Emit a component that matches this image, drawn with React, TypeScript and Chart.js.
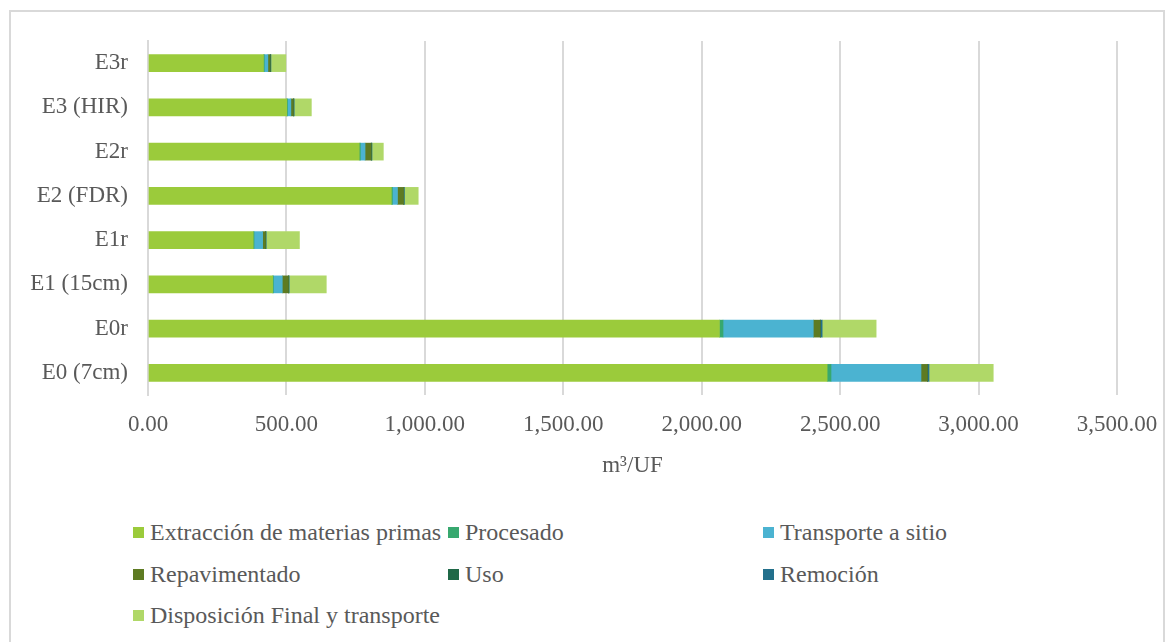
import React, { useEffect, useRef } from "react";
import { Chart, registerables } from "chart.js";

Chart.register(...registerables);

const categories = ["E3r", "E3 (HIR)", "E2r", "E2 (FDR)", "E1r", "E1 (15cm)", "E0r", "E0 (7cm)"];
const extraccion = [417, 501, 763, 879, 380, 450, 2064, 2453];
const procesado = [3, 3, 4, 4, 3, 3, 13, 14];
const transporte = [13, 12, 17, 18, 31, 32, 326, 325];
const repavimentado = [8, 9, 22, 22, 10, 22, 25, 23];
const uso = [1, 1, 1, 1, 1, 1, 1, 1];
const remocion = [2, 2, 2, 2, 2, 2, 6, 5];
const disposicion = [54, 62, 41, 50, 120, 134, 195, 232];

const seriesNames = [
  "Extracción de materias primas",
  "Procesado",
  "Transporte a sitio",
  "Repavimentado",
  "Uso",
  "Remoción",
  "Disposición Final y transporte",
];
const seriesColors = ["#9BCB3B", "#37A86F", "#4BB3D1", "#5E7B22", "#1F6847", "#23708C", "#B0D868"];
const seriesValues = [extraccion, procesado, transporte, repavimentado, uso, remocion, disposicion];

const xMax = 3500;
const xStep = 500;

const FONT = "'Liberation Serif', 'Times New Roman', serif";
const TEXT = "#595959";

export default function App() {
  const ref = useRef<HTMLCanvasElement | null>(null);

  useEffect(() => {
    if (!ref.current) return;
    const chart = new Chart(ref.current, {
      type: "bar",
      data: {
        labels: categories,
        datasets: seriesNames.map((name, i) => ({
          label: name,
          data: seriesValues[i],
          backgroundColor: seriesColors[i],
          borderWidth: 0,
          barThickness: 17,
        })),
      },
      options: {
        indexAxis: "y",
        animation: false,
        responsive: false,
        maintainAspectRatio: false,
        layout: { padding: { top: 29, right: 45, left: 0, bottom: 0 } },
        plugins: { legend: { display: false }, tooltip: { enabled: false } },
        scales: {
          x: {
            stacked: true,
            min: 0,
            max: xMax,
            ticks: {
              stepSize: xStep,
              padding: 16,
              color: TEXT,
              font: { family: FONT, size: 23 },
              maxRotation: 0,
              callback: (v: any) =>
                Number(v).toLocaleString("en-US", { minimumFractionDigits: 2, maximumFractionDigits: 2 }),
            },
            grid: { color: "#d9d9d9", lineWidth: 2, drawTicks: false },
            border: { display: false },
            title: {
              display: true,
              text: "m³/UF",
              color: TEXT,
              font: { family: FONT, size: 23 },
              padding: { top: 14, bottom: 0 },
            },
            afterFit: (s: any) => {
              s.height = 85;
              s.paddingLeft = 0;
              s.paddingRight = 0;
            },
          },
          y: {
            stacked: true,
            ticks: { padding: 20, color: TEXT, font: { family: FONT, size: 23 } },
            grid: { display: false, drawTicks: false },
            border: { display: true, color: "#d9d9d9", width: 2 },
            afterFit: (s: any) => {
              s.width = 138;
              s.paddingTop = 0;
              s.paddingBottom = 0;
            },
          },
        },
      },
    });
    return () => chart.destroy();
  }, []);

  const legendCols = [133, 448, 763];
  const legendRows = [532, 574, 615];

  return (
    <div style={{ position: "fixed", left: 0, top: 0, width: 1174, height: 642, background: "#fff", overflow: "hidden" }}>
      <div
        style={{
          position: "absolute",
          left: 9,
          top: 10,
          width: 1152,
          height: 660,
          border: "2px solid #d9d9d9",
        }}
      />
      <canvas ref={ref} width={1152} height={468} style={{ position: "absolute", left: 10, top: 12 }} />
      {seriesNames.map((name, i) => {
        const col = i % 3;
        const row = Math.floor(i / 3);
        return (
          <div
            key={name}
            style={{
              position: "absolute",
              left: legendCols[col],
              top: legendRows[row] - 14,
              height: 28,
              display: "flex",
              alignItems: "center",
              fontFamily: FONT,
              fontSize: 24,
              color: TEXT,
              whiteSpace: "nowrap",
            }}
          >
            <span style={{ display: "inline-block", width: 11, height: 11, background: seriesColors[i], marginRight: 6 }} />
            <span>{name}</span>
          </div>
        );
      })}
    </div>
  );
}
